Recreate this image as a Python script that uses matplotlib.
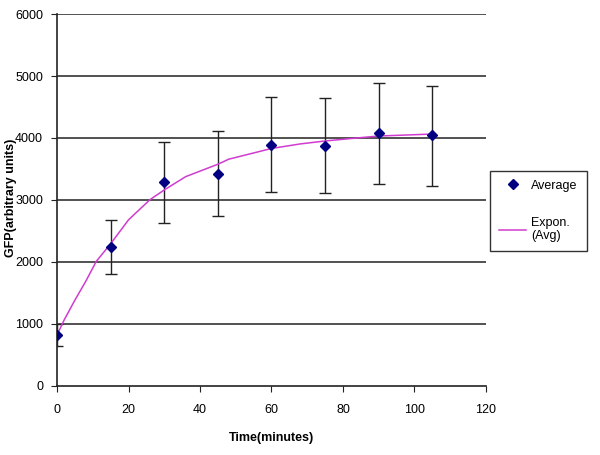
import matplotlib.pyplot as plt

plt.rcParams['font.family'] = ['Liberation Sans', 'DejaVu Sans']

time_min = [0, 15, 30, 45, 60, 75, 90, 105]
avg_gfp = [817, 2234, 3284, 3418, 3892, 3871, 4076, 4044]
err_lo = [640, 1803, 2627, 2745, 3123, 3107, 3262, 3229]
err_hi = [994, 2672, 3940, 4113, 4662, 4641, 4888, 4845]

# trend curve
trend_x = [0, 2, 5, 8, 11, 15, 20, 26, 30, 36, 45, 48, 60, 68, 75, 84, 90, 105]
trend_y = [817, 1060, 1380, 1680, 2008, 2290, 2677, 3003, 3160, 3375, 3575, 3656,
           3830, 3903, 3951, 4000, 4031, 4063]

yerr = [[a - lo for a, lo in zip(avg_gfp, err_lo)],
        [hi - a for a, hi in zip(avg_gfp, err_hi)]]

fig = plt.figure(figsize=(6, 4.55), dpi=100)
ax = fig.add_axes([0.095, 0.1525, 0.715, 0.8165])

for y in range(1000, 7000, 1000):
    ax.axhline(y, color='#333333', lw=1.2, zorder=1)

ax.errorbar(time_min, avg_gfp, yerr=yerr, fmt='none', ecolor='#222222',
            elinewidth=1.0, capsize=4, capthick=1.0, zorder=2)
ax.plot(trend_x, trend_y, color='#d03cd0', lw=1.1, label='Expon.\n(Avg)', zorder=3)
ax.plot(time_min, avg_gfp, 'D', color='#000080', ms=5, label='Average', zorder=4)

ax.set_xlim(0, 120)
ax.set_ylim(0, 6000)
ax.set_xticks(range(0, 121, 20))
ax.set_yticks(range(0, 6001, 1000))
for s in ['top', 'right']:
    ax.spines[s].set_visible(False)
for s in ['left', 'bottom']:
    ax.spines[s].set_color('#222222')
    ax.spines[s].set_linewidth(1.2)
ax.tick_params(labelsize=9, length=4, color='#222222', pad=6)
ax.tick_params(axis='x', pad=9)

ax.set_xlabel('Time(minutes)', fontsize=9, fontweight='bold', labelpad=12)
fig.text(11 / 600, 0.565, 'GFP(arbitrary units)', rotation=90, fontsize=9,
         fontweight='bold', ha='center', va='center')

handles, labels = ax.get_legend_handles_labels()
leg = fig.legend(handles[::-1], labels[::-1], loc='lower left',
                 bbox_to_anchor=(0.817, 0.448), fontsize=9, frameon=True,
                 fancybox=False, edgecolor='black', labelspacing=2.0,
                 handlelength=2.2, handletextpad=0.4, borderpad=0.7,
                 borderaxespad=0)
leg.get_frame().set_linewidth(1.0)

fig.savefig('out.png', dpi=100)
